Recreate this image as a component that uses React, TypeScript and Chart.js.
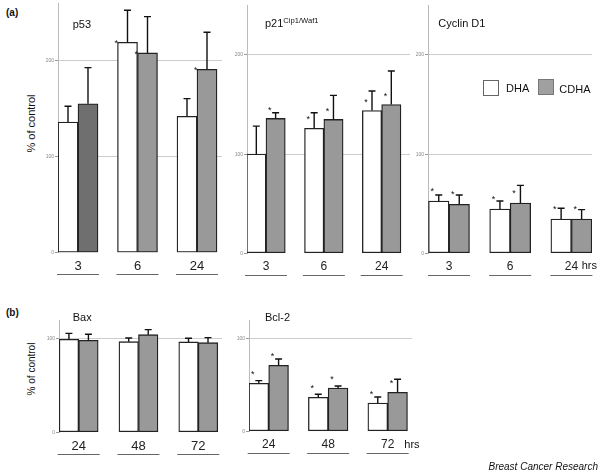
import React, { useEffect, useRef } from 'react';
import { Chart, registerables } from 'chart.js';

Chart.register(...registerables);
Chart.defaults.font.family = "'Liberation Sans', Arial, sans-serif";

// ---------- data ----------
const hoursA = ['3', '6', '24'];
const hoursB = ['24', '48', '72'];
const yTicksA = [0, 100, 200];
const yTicksB = [0, 100];

const p53DHA = [136, 219, 142];
const p53DHAErr = [16.5, 33.5, 18.4];
const p53CDHA = [155, 208, 191];
const p53CDHAErr = [37.7, 37.8, 38.6];
const p53DHASig = [false, true, false];
const p53CDHASig = [false, true, true];

const p21DHA = [100, 126, 144];
const p21DHAErr = [28.3, 15.7, 19.6];
const p21CDHA = [136, 135, 150];
const p21CDHAErr = [5.7, 24.3, 33.8];
const p21DHASig = [false, true, true];
const p21CDHASig = [true, true, true];

const cycDHA = [52.7, 44.7, 34.6];
const cycDHAErr = [6.1, 8, 10.8];
const cycCDHA = [49.4, 50.7, 34.6];
const cycCDHAErr = [9.4, 17.8, 9.4];
const cycDHASig = [true, true, true];
const cycCDHASig = [true, true, true];

const baxDHA = [99.7, 97.1, 96.8];
const baxDHAErr = [6.3, 3.9, 3.9];
const baxCDHA = [98.6, 104.6, 96];
const baxCDHAErr = [6.4, 5.4, 5.4];
const baxDHASig = [false, false, false];
const baxCDHASig = [false, false, false];

const bclDHA = [51.8, 36.7, 30.6];
const bclDHAErr = [2.9, 3.3, 6.4];
const bclCDHA = [71.3, 46.8, 42.1];
const bclCDHAErr = [6.8, 2.1, 14.1];
const bclDHASig = [true, true, true];
const bclCDHASig = [true, true, true];

const FONT = "'Liberation Sans', Arial, sans-serif";

type Geom = {
  left: number; top: number; w: number; h: number;
  padTop: number; padRight: number; xAxisH: number;
  xMin: number; xMax: number; yMax: number; barW: number;
  astDx: number; astDy: number; tickFs: number; tickPad: number;
};

type PanelProps = {
  labels: string[];
  dha: number[]; dhaErr: number[]; dhaSig: boolean[];
  cdha: number[]; cdhaErr: number[]; cdhaSig: boolean[];
  cdhaColors: string[];
  yTicks: number[];
  g: Geom;
};

function Panel(p: PanelProps) {
  const ref = useRef<HTMLCanvasElement>(null);
  useEffect(() => {
    const g = p.g;
    const errs = [p.dhaErr, p.cdhaErr];
    const sigs = [p.dhaSig, p.cdhaSig];
    const vals = [p.dha, p.cdha];
    const errorBars = {
      id: 'errorBars',
      afterDatasetsDraw(chart: any) {
        const ctx = chart.ctx;
        const ys = chart.scales.y;
        ctx.save();
        for (let di = 0; di < 2; di++) {
          const meta = chart.getDatasetMeta(di);
          meta.data.forEach((bar: any, i: number) => {
            const top = ys.getPixelForValue(vals[di][i] + errs[di][i]);
            ctx.strokeStyle = '#111';
            ctx.lineWidth = 1.4;
            ctx.beginPath();
            ctx.moveTo(bar.x, bar.y);
            ctx.lineTo(bar.x, top);
            ctx.moveTo(bar.x - 3.5, top);
            ctx.lineTo(bar.x + 3.5, top);
            ctx.stroke();
            if (sigs[di][i]) {
              ctx.fillStyle = '#111';
              ctx.font = `9px ${FONT}`;
              ctx.textAlign = 'left';
              ctx.textBaseline = 'alphabetic';
              ctx.fillText('*', bar.x - bar.width / 2 + g.astDx, bar.y - g.astDy + 5.1);
            }
          });
        }
        ctx.restore();
      },
    };
    const underline = {
      id: 'underline',
      afterDraw(chart: any) {
        const ctx = chart.ctx;
        const xs = chart.scales.x;
        const y = chart.chartArea.bottom + 21.3;
        ctx.save();
        ctx.strokeStyle = '#666';
        ctx.lineWidth = 1;
        p.labels.forEach((_, i) => {
          const px = xs.getPixelForValue(i);
          ctx.beginPath();
          ctx.moveTo(px - 21, Math.round(y) + 0.5);
          ctx.lineTo(px + 21, Math.round(y) + 0.5);
          ctx.stroke();
        });
        ctx.restore();
      },
    };
    const chart = new Chart(ref.current as HTMLCanvasElement, {
      type: 'bar',
      data: {
        datasets: [
          {
            label: 'DHA',
            data: p.dha.map((v, i) => ({ x: i, y: v })),
            backgroundColor: '#ffffff',
            borderColor: '#222',
            borderWidth: 1.3,
            borderSkipped: false,
            barThickness: g.barW,
          },
          {
            label: 'CDHA',
            data: p.cdha.map((v, i) => ({ x: i, y: v })),
            backgroundColor: p.cdhaColors,
            borderColor: '#222',
            borderWidth: 1.3,
            borderSkipped: false,
            barThickness: g.barW,
          },
        ],
      } as any,
      options: {
        responsive: false,
        animation: false,
        events: [],
        layout: { padding: { top: g.padTop, right: g.padRight, left: 0, bottom: 0 } },
        plugins: { legend: { display: false }, tooltip: { enabled: false } },
        scales: {
          x: {
            type: 'linear',
            min: g.xMin,
            max: g.xMax,
            offset: false,
            grid: { display: false, drawTicks: false, offset: false },
            border: { display: false },
            afterBuildTicks: (s: any) => { s.ticks = p.labels.map((_, i) => ({ value: i })); },
            afterFit: (s: any) => { s.height = g.xAxisH; s.paddingLeft = 0; s.paddingRight = 0; },
            ticks: {
              autoSkip: false,
              maxRotation: 0,
              padding: g.tickPad,
              font: { size: g.tickFs },
              color: '#222',
              callback: (v: any) => p.labels[Math.round(Number(v))],
            },
          },
          y: {
            min: 0,
            max: g.yMax,
            afterBuildTicks: (s: any) => { s.ticks = p.yTicks.map((v) => ({ value: v })); },
            afterFit: (s: any) => { s.width = 20; s.paddingTop = 0; s.paddingBottom = 0; },
            grid: {
              color: (c: any) => (c.tick && c.tick.value === 0 ? 'rgba(0,0,0,0)' : '#cdcdcd'),
              tickColor: '#999',
              tickLength: 3,
              lineWidth: 1,
            },
            border: { display: true, color: '#bbb', width: 1 },
            ticks: { font: { size: 5 }, color: '#888', padding: 1 },
          },
        },
      } as any,
      plugins: [errorBars, underline],
    });
    return () => chart.destroy();
  }, []);
  return (
    <canvas
      ref={ref}
      width={p.g.w}
      height={p.g.h}
      style={{ position: 'absolute', left: p.g.left, top: p.g.top, width: p.g.w, height: p.g.h }}
    />
  );
}

function Txt(props: { x: number; base: number; fs: number; children: any; bold?: boolean; italic?: boolean; right?: boolean }) {
  const top = props.base - 0.8465 * props.fs;
  const style: any = {
    position: 'absolute',
    top,
    fontSize: props.fs,
    lineHeight: `${props.fs}px`,
    fontFamily: FONT,
    fontWeight: props.bold ? 'bold' : 'normal',
    fontStyle: props.italic ? 'italic' : 'normal',
    color: '#111',
    whiteSpace: 'nowrap',
  };
  if (props.right) style.right = 600 - props.x; else style.left = props.x;
  return <div style={style}>{props.children}</div>;
}

function VTxt(props: { cx: number; cy: number; fs: number; children: any }) {
  return (
    <div
      style={{
        position: 'absolute',
        left: props.cx - 50,
        top: props.cy - props.fs / 2,
        width: 100,
        height: props.fs,
        lineHeight: `${props.fs}px`,
        fontSize: props.fs,
        fontFamily: FONT,
        textAlign: 'center',
        transform: 'rotate(-90deg)',
        color: '#111',
        whiteSpace: 'nowrap',
      }}
    >
      {props.children}
    </div>
  );
}

const gP53: Geom = { left: 38, top: 0, w: 190, h: 285, padTop: 3, padRight: 6, xAxisH: 32.3, xMin: -0.336, xMax: 2.42, yMax: 260, barW: 20, astDx: -3, astDy: 1, tickFs: 13, tickPad: 6 };
const gP21: Geom = { left: 227, top: 0, w: 189, h: 285, padTop: 5.4, padRight: 6, xAxisH: 31.7, xMin: -0.328, xMax: 2.49, yMax: 250, barW: 19.3, astDx: 2, astDy: 11, tickFs: 12, tickPad: 6.5 };
const gCyc: Geom = { left: 408, top: 0, w: 190, h: 285, padTop: 5.4, padRight: 6, xAxisH: 31.7, xMin: -0.343, xMax: 2.337, yMax: 250, barW: 20.5, astDx: 2, astDy: 12, tickFs: 12, tickPad: 6.5 };
const gBax: Geom = { left: 39, top: 300, w: 189, h: 160, padTop: 20.3, padRight: 6, xAxisH: 27.7, xMin: -0.329, xMax: 2.397, yMax: 120, barW: 19.5, astDx: 2, astDy: 11, tickFs: 13, tickPad: 6 };
const gBcl: Geom = { left: 229, top: 300, w: 189, h: 160, padTop: 20.2, padRight: 5.7, xAxisH: 28.7, xMin: -0.331, xMax: 2.414, yMax: 120, barW: 19.8, astDx: 2, astDy: 11, tickFs: 12, tickPad: 6.5 };

export default function App() {
  return (
    <div style={{ position: 'absolute', left: 0, top: 0, width: 600, height: 471, background: '#fff', overflow: 'hidden' }}>
      <Panel labels={hoursA} dha={p53DHA} dhaErr={p53DHAErr} dhaSig={p53DHASig} cdha={p53CDHA} cdhaErr={p53CDHAErr} cdhaSig={p53CDHASig}
        cdhaColors={['#6f6f6f', '#999999', '#999999']} yTicks={yTicksA} g={gP53} />
      <Panel labels={hoursA} dha={p21DHA} dhaErr={p21DHAErr} dhaSig={p21DHASig} cdha={p21CDHA} cdhaErr={p21CDHAErr} cdhaSig={p21CDHASig}
        cdhaColors={['#999999', '#999999', '#999999']} yTicks={yTicksA} g={gP21} />
      <Panel labels={hoursA} dha={cycDHA} dhaErr={cycDHAErr} dhaSig={cycDHASig} cdha={cycCDHA} cdhaErr={cycCDHAErr} cdhaSig={cycCDHASig}
        cdhaColors={['#999999', '#999999', '#999999']} yTicks={yTicksA} g={gCyc} />
      <Panel labels={hoursB} dha={baxDHA} dhaErr={baxDHAErr} dhaSig={baxDHASig} cdha={baxCDHA} cdhaErr={baxCDHAErr} cdhaSig={baxCDHASig}
        cdhaColors={['#999999', '#999999', '#999999']} yTicks={yTicksB} g={gBax} />
      <Panel labels={hoursB} dha={bclDHA} dhaErr={bclDHAErr} dhaSig={bclDHASig} cdha={bclCDHA} cdhaErr={bclCDHAErr} cdhaSig={bclCDHASig}
        cdhaColors={['#999999', '#999999', '#999999']} yTicks={yTicksB} g={gBcl} />

      <Txt x={6} base={16} fs={10} bold>(a)</Txt>
      <Txt x={6} base={316} fs={10} bold>(b)</Txt>
      <Txt x={72.7} base={28.5} fs={11}>p53</Txt>
      <Txt x={265} base={27.5} fs={11}>p21<span style={{ fontSize: 7.6, position: 'relative', top: -4.5 }}>Cip1/Waf1</span></Txt>
      <Txt x={438.3} base={27.2} fs={11}>Cyclin D1</Txt>
      <Txt x={72.7} base={321.5} fs={11}>Bax</Txt>
      <Txt x={265} base={321.5} fs={11}>Bcl-2</Txt>
      <VTxt cx={31} cy={123} fs={11}>% of control</VTxt>
      <VTxt cx={32} cy={369} fs={10}>% of control</VTxt>
      <Txt x={581.7} base={269.3} fs={11}>hrs</Txt>
      <Txt x={404.3} base={448.3} fs={11}>hrs</Txt>

      <div style={{ position: 'absolute', left: 483, top: 80, width: 14, height: 14, border: '1px solid #666', background: '#fff' }} />
      <Txt x={506} base={92} fs={11}>DHA</Txt>
      <div style={{ position: 'absolute', left: 538, top: 79, width: 14, height: 14, border: '1px solid #777', background: '#a0a0a0' }} />
      <Txt x={559.3} base={93.5} fs={11}>CDHA</Txt>

      <Txt x={598} base={470} fs={10} italic right>Breast Cancer Research</Txt>
    </div>
  );
}
